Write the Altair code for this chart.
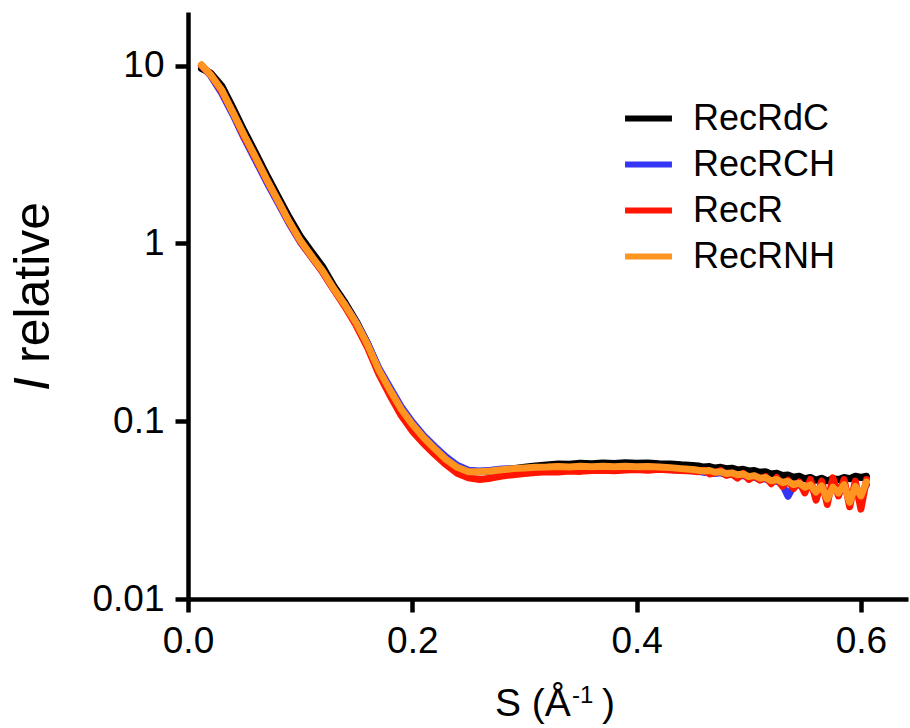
import altair as alt
import pandas as pd

SERIES = ["RecRdC", "RecRCH", "RecR", "RecRNH"]
COLORS = ["#000000", "#3535F5", "#FF1500", "#FF9420"]

S = [0.012, 0.02, 0.03, 0.04, 0.05, 0.06, 0.07, 0.08, 0.09, 0.10,
     0.11, 0.12, 0.13, 0.14, 0.15, 0.16, 0.17, 0.18, 0.19, 0.20,
     0.21, 0.22, 0.23, 0.24, 0.25,
     0.26, 0.27, 0.28, 0.29, 0.30, 0.31, 0.32, 0.33, 0.34, 0.35,
     0.36, 0.37, 0.38, 0.39, 0.40, 0.41, 0.42, 0.43, 0.44, 0.45,
     0.455, 0.46, 0.465, 0.47, 0.475, 0.48, 0.485, 0.49, 0.495, 0.50,
     0.505, 0.51, 0.515, 0.52, 0.525, 0.53, 0.535, 0.54, 0.545, 0.55,
     0.555, 0.56, 0.565, 0.57, 0.575, 0.58, 0.585, 0.59, 0.595, 0.60, 0.605]

RecRdC = [9.6, 9.1, 7.7, 5.8, 4.3, 3.25, 2.44, 1.85, 1.41, 1.10,
          0.90, 0.74, 0.575, 0.465, 0.365, 0.275, 0.197, 0.151, 0.117, 0.096,
          0.081, 0.070, 0.061, 0.055, 0.052,
          0.0519, 0.0524, 0.0533, 0.0541, 0.0550, 0.0560, 0.0568, 0.0575, 0.0572, 0.0580,
          0.0576, 0.0582, 0.0578, 0.0583, 0.0580, 0.0582, 0.0576, 0.0574, 0.0568, 0.0564,
          0.0560, 0.0552, 0.0556, 0.0545, 0.0550, 0.0540, 0.0544, 0.0532, 0.0536, 0.0525,
          0.0528, 0.0516, 0.0520, 0.0505, 0.0510, 0.0495, 0.0498, 0.0484, 0.0490, 0.0475,
          0.0482, 0.0466, 0.0478, 0.0462, 0.0474, 0.0470, 0.0482, 0.0475, 0.0490, 0.0482, 0.0490]

RecRCH = [10.0, 8.8, 7.0, 5.3, 3.9, 2.95, 2.22, 1.70, 1.30, 1.02,
          0.84, 0.69, 0.55, 0.45, 0.36, 0.275, 0.20, 0.155, 0.121, 0.099,
          0.083, 0.072, 0.063, 0.0565, 0.053,
          0.0525, 0.0530, 0.0538, 0.0540, 0.0542, 0.0545, 0.0546, 0.0548, 0.0545, 0.0548,
          0.0546, 0.0547, 0.0543, 0.0545, 0.0544, 0.0542, 0.0538, 0.0535, 0.0530, 0.0526,
          0.0522, 0.0515, 0.0520, 0.0508, 0.0512, 0.0500, 0.0504, 0.0490, 0.0495, 0.0480,
          0.0485, 0.0470, 0.0475, 0.0455, 0.0462, 0.0440, 0.0378, 0.0432, 0.0440, 0.0420,
          0.0430, 0.0405, 0.0420, 0.0390, 0.0415, 0.0395, 0.0420, 0.0380, 0.0415, 0.0390, 0.0440]

RecR = [10.0, 8.9, 7.15, 5.45, 3.98, 3.03, 2.28, 1.74, 1.32, 1.03,
        0.84, 0.69, 0.55, 0.44, 0.345, 0.26, 0.185, 0.140, 0.108, 0.088,
        0.075, 0.065, 0.057, 0.051, 0.048,
        0.0470, 0.0478, 0.0492, 0.0500, 0.0508, 0.0515, 0.0520, 0.0518, 0.0525, 0.0522,
        0.0528, 0.0530, 0.0526, 0.0532, 0.0535, 0.0530, 0.0536, 0.0532, 0.0528, 0.0525,
        0.0520, 0.0530, 0.0505, 0.0512, 0.0528, 0.0496, 0.0505, 0.0478, 0.0508, 0.0470,
        0.0492, 0.0466, 0.0488, 0.0445, 0.0482, 0.0430, 0.0465, 0.0418, 0.0455, 0.0395,
        0.0470, 0.0360, 0.0460, 0.0340, 0.0480, 0.0380, 0.0470, 0.0330, 0.0460, 0.0320, 0.0470]

RecRNH = [10.1, 8.9, 7.3, 5.45, 4.07, 3.07, 2.3, 1.75, 1.33, 1.04,
          0.85, 0.70, 0.555, 0.45, 0.357, 0.27, 0.195, 0.150, 0.117, 0.096,
          0.081, 0.070, 0.061, 0.055, 0.052,
          0.0519, 0.0524, 0.0533, 0.0541, 0.0546, 0.0550, 0.0552, 0.0556, 0.0553, 0.0557,
          0.0555, 0.0558, 0.0554, 0.0557, 0.0555, 0.0556, 0.0552, 0.0548, 0.0541, 0.0535,
          0.0530, 0.0524, 0.0528, 0.0516, 0.0520, 0.0508, 0.0512, 0.0500, 0.0505, 0.0488,
          0.0494, 0.0478, 0.0482, 0.0462, 0.0470, 0.0452, 0.0458, 0.0440, 0.0448, 0.0425,
          0.0438, 0.0400, 0.0432, 0.0365, 0.0425, 0.0395, 0.0440, 0.0350, 0.0430, 0.0380, 0.0455]

X_TICKS = [0.0, 0.2, 0.4, 0.6]
Y_TICKS = [0.01, 0.1, 1, 10]

VALUES = {"RecRdC": RecRdC, "RecRCH": RecRCH, "RecR": RecR, "RecRNH": RecRNH}
rows = []
for name in SERIES:
    for s, v in zip(S, VALUES[name]):
        rows.append({"S": s, "I": v, "series": name})
df = pd.DataFrame(rows)

FONT = "Liberation Sans"

color = alt.Color(
    "series:N",
    scale=alt.Scale(domain=SERIES, range=COLORS),
    legend=alt.Legend(
        title=None, orient="none", legendX=434, legendY=80,
        symbolType="stroke", symbolSize=2200, symbolStrokeWidth=6,
        labelFontSize=36, labelFont=FONT, labelColor="#000000",
        labelOffset=18, rowPadding=1,
    ),
)

xenc = alt.X(
    "S:Q",
    scale=alt.Scale(domain=[0, 0.642], nice=False, zero=False),
    axis=alt.Axis(values=X_TICKS, format=".1f", title=None),
)
yenc = alt.Y(
    "I:Q",
    scale=alt.Scale(type="log", domain=[0.01, 20], nice=False),
    axis=alt.Axis(values=Y_TICKS, format="~g", title=None),
)

layers = []
for name in SERIES:
    layers.append(
        alt.Chart(df)
        .transform_filter(alt.datum.series == name)
        .mark_line(strokeWidth=7, strokeJoin="round", strokeCap="round")
        .encode(x=xenc, y=yenc, color=color, order="S:Q")
    )

one = pd.DataFrame({"k": [0]})

def label(text, x, y, size, angle=0, style="normal"):
    kw = dict(text=text, fontSize=size, font=FONT, fontStyle=style,
              align="left", baseline="alphabetic", color="#000000")
    if angle:
        kw["angle"] = angle
    return alt.Chart(one).mark_text(**kw).encode(x=alt.value(x), y=alt.value(y))

titles = [
    label("I", -139, 379, 50, angle=270, style="italic"),
    label("relative", -139, 351, 50, angle=270),
    label("S (Å", 307, 704, 39),
    label("-1", 384, 691, 24),
    label(")", 414, 704, 39),
]

chart = (
    alt.layer(*layers, *titles)
    .properties(
        width=720, height=587,
        autosize=alt.AutoSizeParams(type="none"),
        padding={"left": 188, "top": 12, "right": 2, "bottom": 129},
    )
    .configure_view(stroke=None)
    .configure_axis(
        grid=False,
        domainColor="#000000", domainWidth=4.5,
        tickColor="#000000", tickWidth=4.5, tickSize=13,
        labelFont=FONT, labelFontSize=37, labelColor="#000000",
        labelPadding=11, labelFlush=False,
    )
)

chart.save("out.html", embed_options={"renderer": "svg", "actions": False})
